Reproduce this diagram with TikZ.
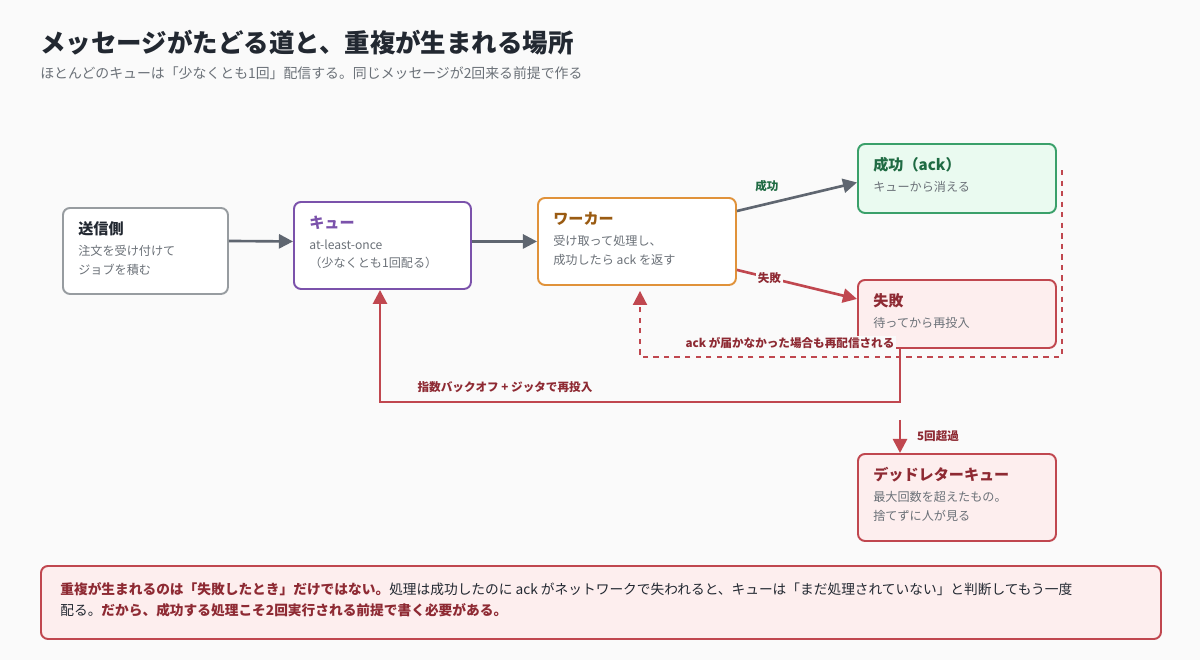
\documentclass[tikz,border=0pt]{standalone}
\usepackage{fontspec}
\setmainfont{Noto Sans CJK JP}
\usetikzlibrary{arrows.meta,positioning,calc}
\definecolor{ink}{HTML}{222831}
\definecolor{muted}{HTML}{6B7178}
\definecolor{edge}{HTML}{5F6670}
\definecolor{purp}{HTML}{7B52AB}
\definecolor{orng}{HTML}{E0923A}
\definecolor{brwn}{HTML}{9A5B12}
\definecolor{grn}{HTML}{3AA06A}
\definecolor{dgrn}{HTML}{1F6B43}
\definecolor{red}{HTML}{C0474F}
\definecolor{dred}{HTML}{8E2A33}
\definecolor{bg}{HTML}{FAFAFA}
\definecolor{okfill}{HTML}{EAFAF0}
\definecolor{ngfill}{HTML}{FDEEEE}
\tikzset{
  box/.style={draw, line width=1.1pt, rounded corners=4pt, fill=white, anchor=north west, inner sep=0pt},
  ttl/.style={anchor=west, font=\fontsize{8.6}{10}\selectfont\bfseries, inner sep=0pt},
  body/.style={anchor=north west, align=left, font=\fontsize{6.9}{10.5}\selectfont, text=muted, inner sep=0pt},
  flow/.style={line width=1.5pt, -{Triangle[length=8pt,width=8pt]}},
  lab/.style={font=\fontsize{6.6}{8}\selectfont\bfseries, inner sep=1pt}
}
\begin{document}
\begin{tikzpicture}[x=0.02cm, y=-0.02cm]
  \fill[bg] (0,0) rectangle (1200,660);
  \useasboundingbox (0,0) rectangle (1200,660);
  % title
  \node[anchor=west, inner sep=0pt, text=ink, font=\fontsize{14.5}{16}\selectfont\bfseries] (title) at (40,43) {メッセージがたどる道と、重複が生まれる場所};
  \node[anchor=west, inner sep=0pt, text=muted, font=\fontsize{7.9}{9}\selectfont] (sub) at (40,73) {ほとんどのキューは「少なくとも1回」配信する。同じメッセージが2回来る前提で作る};
  % boxes
  \node[box, draw=muted!70, minimum width=165*0.02cm, minimum height=86*0.02cm] (snd) at (62,207) {};
  \node[ttl, text=ink] at ($(snd.north west)+(16,22)$) {送信側};
  \node[body] at ($(snd.north west)+(16,38)$) {注文を受け付けて\\ジョブを積む};
  \node[box, draw=purp, minimum width=177*0.02cm, minimum height=87*0.02cm] (que) at (293,201) {};
  \node[ttl, text=purp] at ($(que.north west)+(16,22)$) {キュー};
  \node[body] at ($(que.north west)+(16,38)$) {at-least-once\\（少なくとも1回配る）};
  \node[box, draw=orng, minimum width=198*0.02cm, minimum height=87*0.02cm] (wrk) at (537,197) {};
  \node[ttl, text=brwn] at ($(wrk.north west)+(16,22)$) {ワーカー};
  \node[body] at ($(wrk.north west)+(16,38)$) {受け取って処理し、\\成功したら ack を返す};
  \node[box, draw=grn, fill=okfill, minimum width=198*0.02cm, minimum height=69*0.02cm] (ok) at (857,143) {};
  \node[ttl, text=dgrn] at ($(ok.north west)+(16,22)$) {成功（ack）};
  \node[body] at ($(ok.north west)+(16,38)$) {キューから消える};
  \node[box, draw=red, fill=ngfill, minimum width=198*0.02cm, minimum height=68*0.02cm] (ng) at (857,279) {};
  \node[ttl, text=dred] at ($(ng.north west)+(16,22)$) {失敗};
  \node[body] at ($(ng.north west)+(16,38)$) {待ってから再投入};
  \node[box, draw=red, fill=ngfill, minimum width=198*0.02cm, minimum height=87*0.02cm] (dlq) at (857,453) {};
  \node[ttl, text=dred] at ($(dlq.north west)+(16,22)$) {デッドレターキュー};
  \node[body] at ($(dlq.north west)+(16,38)$) {最大回数を超えたもの。\\捨てずに人が見る};
  % main flow
  \draw[flow, edge] ($(snd.east)+(0,-10)$) -- ($(que.west)+(0,-4)$);
  \draw[flow, edge] ($(que.east)+(0,-4)$) -- ($(wrk.west)+(0,0)$);
  \draw[flow, edge] ($(wrk.north east)+(0,14)$) -- node[lab, text=dgrn, above=5pt, pos=0.25] {成功} ($(ok.west)+(0,4)$);
  \draw[flow, red] ($(wrk.south east)+(0,-16)$) -- node[lab, text=dred, fill=bg, pos=0.27] {失敗} ($(ng.west)+(0,-15)$);
  % retry paths
  \coordinate (rtB) at ($(ng.south west)+(43,0)$);
  \draw[flow, red] (rtB) -- ++(0,53) -| ($(que.south west)+(87,0)$);
  \node[lab, text=dred] (rtlab) at (505,387) {指数バックオフ + ジッタで再投入};
  \coordinate (ackT) at ($(ok.north east)+(5,27)$);
  \draw[flow, red, dashed, line width=1.1pt] (ackT) -- ++(0,187) -| ($(wrk.south west)+(103,5)$);
  \node[lab, text=dred, fill=bg] (acklab) at (790,343) {ack が届かなかった場合も再配信される};
  \coordinate (dlqT) at ($(ng.south west)+(43,71)$);
  \draw[flow, red] (dlqT) -- node[lab, text=dred, right=8pt] {5回超過} (dlq.north -| dlqT);
  % note
  \node[box, draw=red, fill=ngfill, minimum width=1120*0.02cm, minimum height=73*0.02cm] (note) at (40,565) {};
  \node[anchor=north west, align=left, inner sep=0pt, text=ink, font=\fontsize{7.8}{12}\selectfont] at ($(note.north west)+(20,17)$) {\textcolor{dred}{\bfseries 重複が生まれるのは「失敗したとき」だけではない。}処理は成功したのに ack がネットワークで失われると、キューは「まだ処理されていない」と判断してもう一度\\配る。\textcolor{dred}{\bfseries だから、成功する処理こそ2回実行される前提で書く必要がある。}};
\end{tikzpicture}
\end{document}
